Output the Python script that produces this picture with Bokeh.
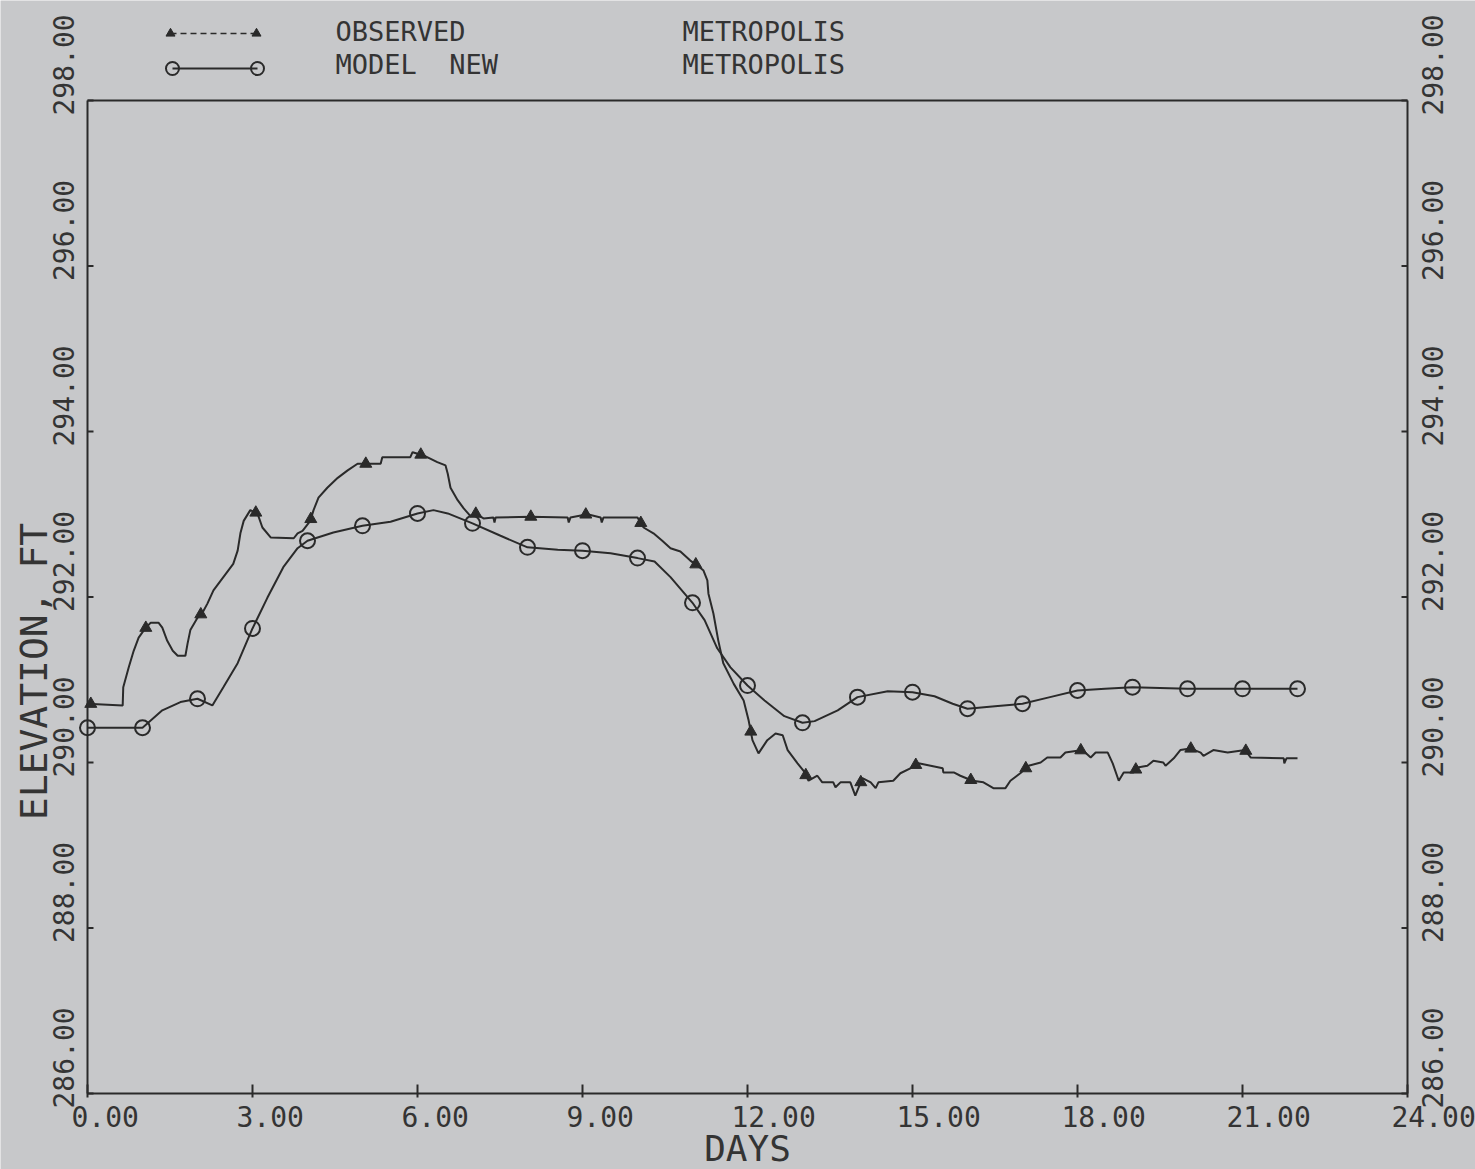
import numpy as np
from bokeh.plotting import figure
from bokeh.models import Range1d
from bokeh.core.properties import value
from bokeh.embed import file_html
from bokeh.resources import INLINE

# ---- data -------------------------------------------------------------
# Observed stage, Metropolis (days from start, elevation ft)
obs_day = [0.00, 0.64, 0.65, 0.75, 0.84, 0.93, 1.05, 1.15, 1.29, 1.36, 1.45, 1.55,
           1.64, 1.78, 1.82, 1.87, 2.00, 2.09, 2.18, 2.29, 2.47, 2.65, 2.73, 2.78,
           2.84, 2.96, 3.09, 3.18, 3.33, 3.75, 3.82, 3.91, 4.05, 4.11, 4.20, 4.36,
           4.55, 4.73, 4.91, 5.09, 5.33, 5.36, 5.87, 5.91, 6.11, 6.24, 6.36, 6.51,
           6.55, 6.60, 6.73, 6.84, 6.96, 7.05, 7.20, 7.38, 7.40, 7.42, 8.05, 8.73,
           8.75, 8.78, 9.09, 9.33, 9.35, 9.38, 10.00, 10.11, 10.29, 10.45, 10.60,
           10.78, 10.96, 11.09, 11.20, 11.27, 11.29, 11.38, 11.47, 11.56, 11.75,
           11.93, 12.02, 12.09, 12.20, 12.36, 12.51, 12.64, 12.73, 12.91, 13.02,
           13.11, 13.27, 13.36, 13.56, 13.60, 13.69, 13.87, 13.96, 14.09, 14.24,
           14.33, 14.38, 14.65, 14.78, 14.96, 15.11, 15.33, 15.55, 15.56, 15.75,
           15.87, 16.09, 16.29, 16.47, 16.69, 16.78, 16.96, 17.11, 17.33, 17.45,
           17.69, 17.78, 18.09, 18.24, 18.33, 18.55, 18.64, 18.75, 18.84, 19.02,
           19.09, 19.27, 19.38, 19.56, 19.60, 19.75, 19.87, 20.05, 20.24, 20.29,
           20.47, 20.73, 21.05, 21.15, 21.75, 21.76, 21.80, 22.00]
obs_elev = [290.71, 290.69, 290.91, 291.15, 291.35, 291.51, 291.62, 291.69, 291.69,
            291.63, 291.47, 291.35, 291.29, 291.29, 291.44, 291.60, 291.75, 291.81,
            291.92, 292.08, 292.24, 292.40, 292.56, 292.77, 292.92, 293.05, 293.01,
            292.84, 292.72, 292.71, 292.77, 292.80, 292.92, 293.05, 293.20, 293.32,
            293.44, 293.53, 293.61, 293.61, 293.61, 293.69, 293.69, 293.75, 293.71,
            293.67, 293.63, 293.59, 293.49, 293.32, 293.17, 293.07, 292.98, 293.01,
            292.95, 292.96, 292.90, 292.96, 292.97, 292.96, 292.90, 292.96, 293.00,
            292.96, 292.90, 292.96, 292.96, 292.84, 292.77, 292.68, 292.59, 292.55,
            292.44, 292.38, 292.32, 292.20, 292.04, 291.80, 291.47, 291.20, 290.95,
            290.75, 290.51, 290.27, 290.11, 290.27, 290.35, 290.33, 290.15, 289.99,
            289.90, 289.78, 289.84, 289.76, 289.76, 289.70, 289.76, 289.76, 289.60,
            289.81, 289.76, 289.69, 289.76, 289.78, 289.87, 289.93, 289.99, 289.96,
            289.93, 289.88, 289.88, 289.84, 289.78, 289.76, 289.69, 289.69, 289.78,
            289.87, 289.96, 290.00, 290.06, 290.06, 290.12, 290.15, 290.06, 290.12,
            290.12, 289.99, 289.78, 289.88, 289.88, 289.94, 289.96, 290.02, 290.00,
            289.96, 290.05, 290.15, 290.17, 290.12, 290.08, 290.15, 290.12, 290.15,
            290.06, 290.05, 289.99, 290.05, 290.05]

# Model run ("MODEL NEW"), Metropolis
model_day = [0, 1, 1.36, 1.69, 2, 2.27, 2.47, 2.73, 3, 3.27, 3.56, 3.82, 4, 4.47,
             5, 5.51, 6, 6.29, 6.55, 7, 7.51, 8, 8.55, 9, 9.51, 10, 10.31, 10.6,
             11, 11.22, 11.45, 11.69, 12, 12.31, 12.67, 13, 13.22, 13.64, 14, 14.55,
             15, 15.4, 15.73, 16, 16.5, 17, 17.5, 18, 18.5, 19, 20, 21, 22]
model_elev = [290.42, 290.42, 290.63, 290.73, 290.77, 290.69, 290.91, 291.20, 291.62,
              291.99, 292.36, 292.59, 292.68, 292.78, 292.86, 292.91, 293.01, 293.05,
              293.01, 292.89, 292.74, 292.60, 292.57, 292.56, 292.53, 292.47, 292.43,
              292.24, 291.93, 291.72, 291.38, 291.15, 290.93, 290.75, 290.56, 290.48,
              290.50, 290.63, 290.79, 290.86, 290.85, 290.80, 290.71, 290.65, 290.68,
              290.71, 290.79, 290.87, 290.89, 290.91, 290.89, 290.89, 290.89]

x_ticks = [0, 3, 6, 9, 12, 15, 18, 21, 24]
x_tick_labels = ["0.00", "3.00", "6.00", "9.00", "12.00", "15.00", "18.00", "21.00", "24.00"]
y_ticks = [286, 288, 290, 292, 294, 296, 298]
y_tick_labels = ["286.00", "288.00", "290.00", "292.00", "294.00", "296.00", "298.00"]

# non-breaking spaces keep the plotter's double gap in SVG text
series_names = ["OBSERVED", "MODEL\u00a0\u00a0NEW"]
station_names = ["METROPOLIS", "METROPOLIS"]

# ---- page geometry and style -----------------------------------------
# The plotting area covers the whole page; the axis box is drawn in data units.
W, H = 1475, 1169
LEFT, RIGHT, BOTTOM = 87, 1407, 1093          # page pixels of the axis box
X0, X1, Y0, Y1 = 0.0, 24.0, 286.0, 298.0
PX_PER_DAY = (RIGHT - LEFT) / (X1 - X0)
PX_PER_FT = 82.75

PAPER = "#c7c8ca"
INK = "#2a2a2a"
TEXT = "#343434"
FONT = "DejaVu Sans Mono"


def day_at(px):
    return X0 + (px - LEFT) / PX_PER_DAY


def ft_at(py):
    return Y0 + (BOTTOM - py) / PX_PER_FT


def dx(px):
    return px / PX_PER_DAY


def dy(px):
    return px / PX_PER_FT


p = figure(width=W, height=H,
           x_range=Range1d(day_at(0), day_at(W)), y_range=Range1d(ft_at(H), ft_at(0)),
           output_backend="svg", toolbar_location=None,
           x_axis_location=None, y_axis_location=None,
           min_border=0, min_border_left=0, min_border_right=0,
           min_border_top=0, min_border_bottom=0)
p.background_fill_color = PAPER
p.border_fill_color = PAPER
p.outline_line_color = None
p.grid.grid_line_color = None

# ---- axis box and ticks ---------------------------------------------
p.segment(x0=[X0, X1, X0, X0], y0=[Y0, Y0, Y0, Y1],
          x1=[X0, X1, X1, X1], y1=[Y1, Y1, Y0, Y1],
          line_color=INK, line_width=2)
p.segment(x0=x_ticks, y0=[Y0 - dy(4)] * len(x_ticks),
          x1=x_ticks, y1=[Y0 + dy(9)] * len(x_ticks),
          line_color=INK, line_width=2)
p.segment(x0=[X0] * len(y_ticks), y0=y_ticks,
          x1=[X0 + dx(6)] * len(y_ticks), y1=y_ticks, line_color=INK, line_width=2)
p.segment(x0=[X1 - dx(6)] * len(y_ticks), y0=y_ticks,
          x1=[X1] * len(y_ticks), y1=y_ticks, line_color=INK, line_width=2)

# ---- tick labels ------------------------------------------------------
p.text(x=[t - dx(16) for t in x_ticks], y=[Y0 - dy(12)] * len(x_ticks),
       text=x_tick_labels, text_font=value(FONT), text_font_size="28px",
       text_color=TEXT, text_align="left", text_baseline="top")
for x_lab in (X0 - dx(24), X1 + dx(25)):
    p.text(x=[x_lab] * len(y_ticks), y=[t - dy(15) for t in y_ticks],
           text=y_tick_labels, angle=np.pi / 2, text_font=value(FONT),
           text_font_size="28px", text_color=TEXT,
           text_align="left", text_baseline="middle")

# ---- axis titles ------------------------------------------------------
p.text(x=[(X0 + X1) / 2], y=[ft_at(H - 1)], text=["DAYS"], text_font=value(FONT),
       text_font_size="36px", text_color=TEXT, text_align="center",
       text_baseline="bottom")
p.text(x=[X0 - dx(54)], y=[ft_at(671)], text=["ELEVATION, FT"], angle=np.pi / 2,
       text_font=value(FONT), text_font_size="38px", text_color=TEXT,
       text_align="center", text_baseline="middle")

# ---- curves -------------------------------------------------------------
p.line(obs_day, obs_elev, line_color=INK, line_width=2)
p.line(model_day, model_elev, line_color=INK, line_width=2)

# a symbol once a day on each curve
obs_sym_day = np.arange(0, 22) + 0.06
obs_sym_elev = np.interp(obs_sym_day, obs_day, obs_elev)
p.scatter(obs_sym_day, obs_sym_elev, marker="triangle", size=12,
          fill_color=INK, line_color=INK)

model_day_arr = np.array(model_day, dtype=float)
model_elev_arr = np.array(model_elev)
daily = model_day_arr == np.round(model_day_arr)
p.scatter(model_day_arr[daily], model_elev_arr[daily], marker="circle", size=15,
          fill_color=None, line_color=INK, line_width=2)

# ---- key above the box ------------------------------------------------
key_rows = [ft_at(33), ft_at(68)]
p.line([day_at(170), day_at(256)], [key_rows[0]] * 2, line_color=INK,
       line_width=1.5, line_dash="6 4")
p.scatter([day_at(170), day_at(256)], [key_rows[0]] * 2, marker="triangle", size=9,
          fill_color=INK, line_color=INK)
p.line([day_at(172), day_at(257)], [key_rows[1]] * 2, line_color=INK, line_width=2)
p.scatter([day_at(172), day_at(257)], [key_rows[1]] * 2, marker="circle", size=13,
          fill_color=None, line_color=INK, line_width=2)

text_rows = [ft_at(31), ft_at(64)]
p.text(x=[day_at(335)] * 2, y=text_rows, text=series_names, text_font=value(FONT),
       text_font_size="27px", text_color=TEXT, text_align="left",
       text_baseline="middle")
p.text(x=[day_at(682)] * 2, y=text_rows, text=station_names, text_font=value(FONT),
       text_font_size="27px", text_color=TEXT, text_align="left",
       text_baseline="middle")

open("out.html", "w").write(file_html(p, INLINE))
